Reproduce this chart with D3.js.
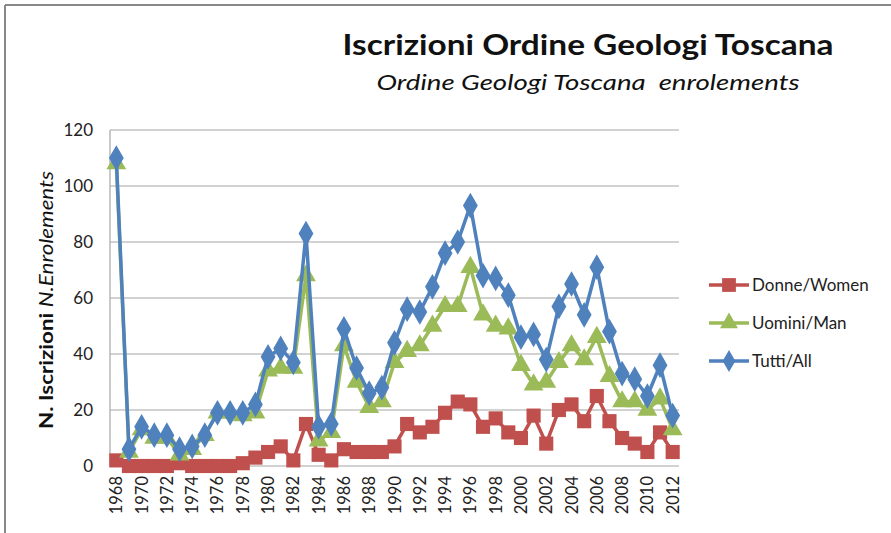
<!DOCTYPE html>
<html>
<head>
<meta charset="utf-8">
<script src="https://d3js.org/d3.v7.min.js"></script>
<style>
  body { margin: 0; background: #fff; }
  text { font-family: Lato, "Open Sans", sans-serif; }
</style>
</head>
<body>
<script>

  // years 1968..2012
  var years = [1968,1969,1970,1971,1972,1973,1974,1975,1976,1977,1978,1979,1980,1981,1982,1983,1984,1985,1986,1987,1988,1989,1990,1991,1992,1993,1994,1995,1996,1997,1998,1999,2000,2001,2002,2003,2004,2005,2006,2007,2008,2009,2010,2011,2012];

  var donne = [2,0,0,0,0,1,0,0,0,0,1,3,5,7,2,15,4,2,6,5,5,5,7,15,12,14,19,23,22,14,17,12,10,18,8,20,22,16,25,16,10,8,5,12,5];
  var uomini = [108,5,13,10,10,4,6,11,19,19,18,19,34,35,35,68,9,12,43,30,21,23,37,41,43,50,57,57,71,54,50,49,36,29,30,37,43,38,46,32,23,23,20,24,13];
  var tutti = [110,6,14,11,11,6,7,11,19,19,19,22,39,42,37,83,14,15,49,35,26,28,44,56,55,64,76,80,93,68,67,61,46,47,38,57,65,54,71,48,33,31,25,36,18];

  var yTicks = [0,20,40,60,80,100,120];
  var seriesNames = ["Donne/Women","Uomini/Man","Tutti/All"];
  var colors = ["#C0504D","#9BBB59","#4F81BD"];
  var shapes = [d3.symbolSquare, d3.symbolTriangle, d3.symbolDiamond];
  var sizes = [200, 170, 190];

  var W = 891, H = 533;
  var svg = d3.select("body").append("svg")
    .attr("width", W)
    .attr("height", H);

  // outer chart frame (cut off on right/bottom)
  svg.append("line").attr("x1",5).attr("x2",W).attr("y1",5).attr("y2",5)
    .attr("stroke","#888").attr("stroke-width",2);
  svg.append("line").attr("x1",5).attr("x2",5).attr("y1",5).attr("y2",H)
    .attr("stroke","#888").attr("stroke-width",2);

  var pLeft = 110, pRight = 679, pTop = 130, pBottom = 466;

  var x = d3.scaleBand().domain(years).range([pLeft, pRight]);
  var y = d3.scaleLinear().domain([0,120]).range([pBottom, pTop]);
  var cx = function(d) { return x(d) + x.bandwidth() / 2; };

  // gridlines
  svg.append("g").selectAll("line")
    .data(yTicks)
    .enter().append("line")
      .attr("x1", pLeft).attr("x2", pRight)
      .attr("y1", function(d) { return y(d); })
      .attr("y2", function(d) { return y(d); })
      .attr("stroke", "#a6a6a6")
      .attr("stroke-width", 1.2);

  // left axis line
  svg.append("line").attr("x1",pLeft).attr("x2",pLeft).attr("y1",pTop).attr("y2",pBottom)
    .attr("stroke","#a6a6a6").attr("stroke-width",1.2);

  // y tick labels
  svg.append("g").selectAll("text")
    .data(yTicks)
    .enter().append("text")
      .attr("x", 93)
      .attr("y", function(d) { return y(d); })
      .attr("dy", "0.35em")
      .attr("text-anchor", "end")
      .attr("font-family", "Liberation Sans, Arial, sans-serif")
      .attr("font-size", 17)
      .attr("fill", "#222")
      .text(function(d) { return d; });

  // x tick labels, every other year
  svg.append("g").selectAll("text")
    .data(years.filter(function(d) { return d % 2 === 0; }))
    .enter().append("text")
      .attr("transform", function(d) {
        return "translate(" + (cx(d) + 6) + "," + 476 + ") rotate(-90)";
      })
      .attr("text-anchor", "end")
      .attr("font-family", "Liberation Sans, Arial, sans-serif")
      .attr("font-size", 16.5)
      .attr("fill", "#222")
      .text(function(d) { return d; });

  // series
  var allSeries = [donne, uomini, tutti];
  var line = d3.line()
    .x(function(d, i) { return cx(years[i]); })
    .y(function(d) { return y(d); });

  allSeries.forEach(function(vals, k) {
    var g = svg.append("g");
    g.append("path")
      .datum(vals)
      .attr("d", line)
      .attr("fill", "none")
      .attr("stroke", colors[k])
      .attr("stroke-width", 3.5)
      .attr("stroke-linejoin", "round");
    g.selectAll("path.m")
      .data(vals)
      .enter().append("path")
        .attr("class", "m")
        .attr("d", d3.symbol().type(shapes[k]).size(sizes[k]))
        .attr("transform", function(d, i) {
          return "translate(" + cx(years[i]) + "," + y(d) + ")";
        })
        .attr("fill", colors[k]);
  });

  // legend
  var legend = svg.append("g").selectAll("g")
    .data(seriesNames)
    .enter().append("g")
      .attr("transform", function(d, i) { return "translate(0," + (285 + i * 38) + ")"; });
  legend.append("line")
    .attr("x1", 709).attr("x2", 749)
    .attr("stroke", function(d, i) { return colors[i]; })
    .attr("stroke-width", 3.5);
  legend.append("path")
    .attr("d", function(d, i) { return d3.symbol().type(shapes[i]).size(i === 0 ? 190 : 140)(); })
    .attr("transform", "translate(729,0)")
    .attr("fill", function(d, i) { return colors[i]; });
  legend.append("text")
    .attr("x", 752)
    .attr("dy", "0.35em")
    .attr("font-size", 17)
    .attr("fill", "#222")
    .text(function(d) { return d; });

  // titles
  svg.append("text")
    .attr("x", 588).attr("y", 55)
    .attr("text-anchor", "middle")
    .attr("font-size", 29)
    .attr("font-weight", "bold")
    .attr("fill", "#111")
    .attr("textLength", 491)
    .attr("lengthAdjust", "spacingAndGlyphs")
    .text("Iscrizioni Ordine Geologi Toscana");
  svg.append("text")
    .attr("x", 588).attr("y", 90)
    .attr("text-anchor", "middle")
    .attr("font-size", 21)
    .attr("font-style", "italic")
    .attr("fill", "#111")
    .style("white-space", "pre")
    .attr("textLength", 423)
    .attr("lengthAdjust", "spacingAndGlyphs")
    .text("Ordine Geologi Toscana  enrolements");

  // y axis title
  var yt = svg.append("text")
    .attr("transform", "translate(53,300) rotate(-90)")
    .attr("text-anchor", "middle")
    .attr("font-size", 18.5)
    .attr("fill", "#111")
    .attr("textLength", 258)
    .attr("lengthAdjust", "spacingAndGlyphs");
  yt.append("tspan").attr("font-weight", "bold").text("N. Iscrizioni ");
  yt.append("tspan").attr("font-style", "italic").text(" N.Enrolements");

</script>
</body>
</html>
